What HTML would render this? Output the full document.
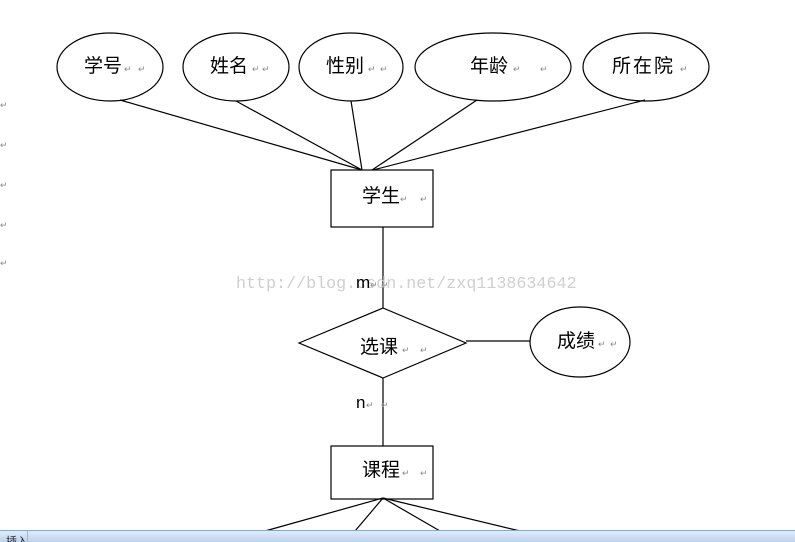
<!DOCTYPE html>
<html><head><meta charset="utf-8"><style>
html,body{margin:0;padding:0;background:#fff;width:795px;height:542px;overflow:hidden}
svg{display:block}
text{font-family:"Liberation Sans","Noto Sans CJK SC",sans-serif}
</style></head><body>
<svg width="795" height="542" viewBox="0 0 795 542">
<g fill="none" stroke="#000" stroke-width="1.2">
<ellipse cx="110" cy="67" rx="53" ry="34"/>
<ellipse cx="236" cy="67" rx="53" ry="34"/>
<ellipse cx="351" cy="67" rx="52" ry="34"/>
<ellipse cx="493" cy="67" rx="78" ry="34"/>
<ellipse cx="646" cy="67" rx="63" ry="34"/>
<line x1="120" y1="100" x2="362" y2="170"/>
<line x1="236" y1="101" x2="362" y2="170"/>
<line x1="351" y1="101" x2="362" y2="170"/>
<line x1="477" y1="100" x2="372" y2="170"/>
<line x1="645" y1="100" x2="373" y2="170"/>
<rect x="331" y="170" width="102" height="57"/>
<line x1="383" y1="227" x2="383" y2="308"/>
<polygon points="299,343 383,308 466,343 383,378"/>
<line x1="466" y1="341" x2="530" y2="341"/>
<ellipse cx="580" cy="342" rx="50" ry="35"/>
<line x1="383" y1="378" x2="383" y2="446"/>
<rect x="331" y="446" width="102" height="53"/>
<line x1="383" y1="498" x2="265" y2="531"/>
<line x1="383" y1="498" x2="355" y2="531"/>
<line x1="383" y1="498" x2="440" y2="531"/>
<line x1="383" y1="498" x2="520" y2="531"/>
</g>
<text x="236" y="288" style="font-family:'Liberation Mono',monospace;font-size:16.7px" fill="#cfcfcf">http://blog.csdn.net/zxq1138634642</text>
<g font-size="19" fill="#000">
<text x="84" y="72">学号</text>
<text x="210" y="72">姓名</text>
<text x="326" y="72">性别</text>
<text x="470" y="72">年龄</text>
<text x="612" y="72" letter-spacing="2">所在院</text>
<text x="362" y="202">学生</text>
<text x="360" y="353">选课</text>
<text x="557" y="347">成绩</text>
<text x="362" y="476">课程</text>
<text x="356" y="288" font-size="17">m</text>
<text x="356" y="408" font-size="17">n</text>
</g>
<g font-size="9" fill="#888">
<text x="124" y="72">↵</text><text x="138" y="72">↵</text>
<text x="252" y="72">↵</text><text x="262" y="72">↵</text>
<text x="368" y="72">↵</text><text x="380" y="72">↵</text>
<text x="513" y="72">↵</text><text x="540" y="72">↵</text>
<text x="680" y="72">↵</text>
<text x="400" y="202">↵</text><text x="420" y="202">↵</text>
<text x="402" y="353">↵</text><text x="420" y="353">↵</text>
<text x="598" y="347">↵</text><text x="610" y="347">↵</text>
<text x="402" y="476">↵</text><text x="420" y="476">↵</text>
<text x="370" y="288">↵</text><text x="381" y="288">↵</text>
<text x="366" y="408">↵</text><text x="381" y="408">↵</text>
<text x="0" y="108">↵</text><text x="0" y="148">↵</text><text x="0" y="188">↵</text><text x="0" y="228">↵</text><text x="0" y="266">↵</text>
</g>
<defs><linearGradient id="g" x1="0" y1="0" x2="0" y2="1"><stop offset="0" stop-color="#e4eefb"/><stop offset="1" stop-color="#bcd2ee"/></linearGradient></defs>
<rect x="0" y="530" width="795" height="12" fill="url(#g)"/>
<line x1="0" y1="530.5" x2="795" y2="530.5" stroke="#8ba7cf"/>
<line x1="27.5" y1="531" x2="27.5" y2="542" stroke="#9fb6d8"/>
<text x="6" y="545" font-size="11" fill="#223">插入</text>
</svg>
</body></html>
